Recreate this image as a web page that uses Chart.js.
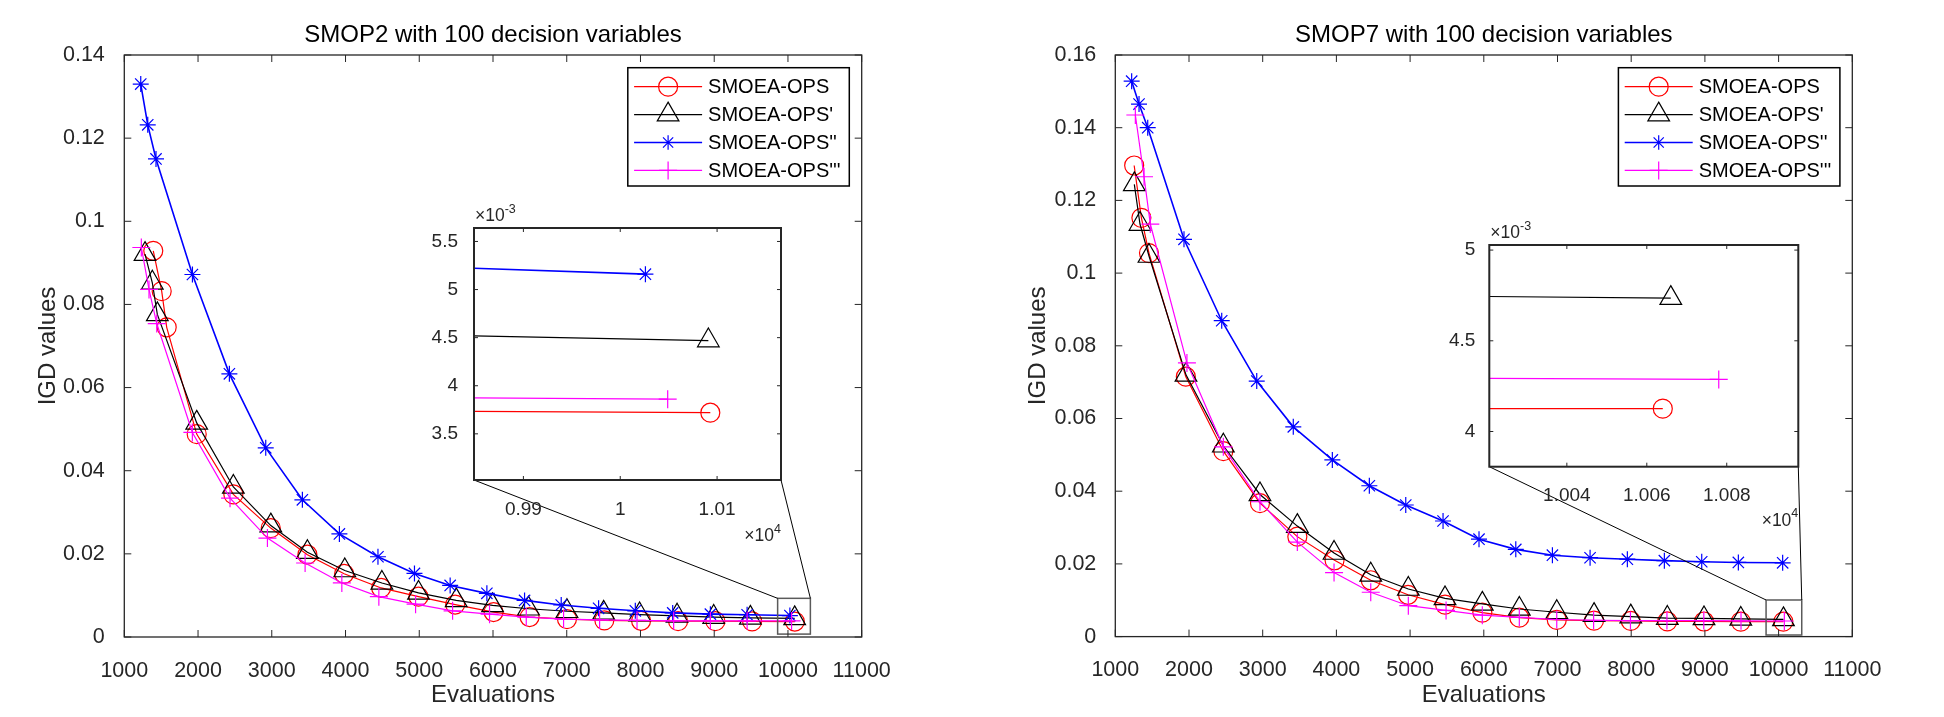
<!DOCTYPE html>
<html>
<head>
<meta charset="utf-8">
<title>IGD values vs evaluations</title>
<script src="https://cdn.jsdelivr.net/npm/chart.js@4.4.1/dist/chart.umd.min.js"></script>
<style>
  html, body { margin: 0; padding: 0; background: #fff; }
  body { width: 1944px; height: 717px; position: relative; overflow: hidden; }
  canvas { position: absolute; }
</style>
</head>
<body>
<canvas id="mainLeft" width="972" height="717" style="left:0px;top:0px"></canvas>
<canvas id="mainRight" width="972" height="717" style="left:972px;top:0px"></canvas>
<canvas id="insetLeft" width="420" height="370" style="left:394px;top:190px"></canvas>
<canvas id="insetRight" width="420" height="340" style="left:1409px;top:205px"></canvas>
<script>
// ---- series names ----
const seriesLabels = ['SMOEA-OPS', "SMOEA-OPS'", "SMOEA-OPS''", "SMOEA-OPS'''"];

// ---- SMOP2 (left panel) ----
const smop2RedX = [1393, 1507, 1575, 1982, 2479, 2986, 3483, 3981, 4483, 4989, 5487, 6008, 6496, 7003, 7510, 8008, 8510, 9016, 9514, 10093];
const smop2RedY = [0.0929, 0.0832, 0.0745, 0.0488, 0.0343, 0.0262, 0.0198, 0.0152, 0.0118, 0.0097, 0.0078, 0.0060, 0.0048, 0.0043, 0.0040, 0.0039, 0.0038, 0.0038, 0.00375, 0.00372];
const smop2BlackX = [1281, 1380, 1448, 1982, 2479, 2987, 3483, 3990, 4493, 4990, 5501, 5994, 6482, 7003, 7500, 7988, 8496, 8993, 9490, 10091];
const smop2BlackY = [0.0921, 0.0852, 0.0776, 0.0515, 0.0361, 0.0268, 0.0204, 0.0160, 0.0130, 0.0106, 0.0088, 0.0076, 0.0068, 0.0062, 0.0058, 0.0054, 0.0051, 0.0048, 0.00459, 0.00447];
const smop2BlueX = [1223, 1318, 1430, 1924, 2425, 2918, 3415, 3917, 4440, 4935, 5419, 5917, 6428, 6925, 7432, 7930, 8437, 8948, 9446, 10026];
const smop2BlueY = [0.1330, 0.1232, 0.1150, 0.0872, 0.0633, 0.0455, 0.0330, 0.0248, 0.0193, 0.0153, 0.0124, 0.0105, 0.0088, 0.0077, 0.0069, 0.0063, 0.0058, 0.0055, 0.00536, 0.00516];
const smop2MagentaX = [1231, 1335, 1440, 1923, 2434, 2941, 3452, 3950, 4452, 4950, 5452, 5953, 6451, 6957, 7446, 7953, 8450, 8948, 9446, 10049];
const smop2MagentaY = [0.0937, 0.0836, 0.0754, 0.0492, 0.0334, 0.0238, 0.0178, 0.0130, 0.0097, 0.0079, 0.0063, 0.0055, 0.0048, 0.0043, 0.0041, 0.0040, 0.0039, 0.0039, 0.0039, 0.00386];

// ---- SMOP7 (right panel) ----
const smop7RedX = [1256, 1354, 1457, 1957, 2466, 2963, 3470, 3975, 4466, 4972, 5474, 5980, 6482, 6990, 7496, 7994, 8490, 8988, 9487, 10064];
const smop7RedY = [0.1296, 0.1152, 0.1055, 0.0715, 0.0510, 0.0367, 0.0275, 0.0210, 0.0155, 0.0115, 0.0088, 0.0066, 0.0052, 0.0046, 0.0044, 0.0043, 0.0042, 0.00415, 0.00413, 0.004126];
const smop7BlackX = [1258, 1335, 1457, 1959, 2466, 2963, 3470, 3968, 4466, 4976, 5474, 5980, 6482, 6990, 7496, 7994, 8490, 8988, 9487, 10066];
const smop7BlackY = [0.1244, 0.1135, 0.1047, 0.0720, 0.0525, 0.0391, 0.0304, 0.0230, 0.0170, 0.0131, 0.0105, 0.0090, 0.0076, 0.0067, 0.0059, 0.0055, 0.0051, 0.0050, 0.00485, 0.004735];
const smop7BlueX = [1222, 1322, 1440, 1932, 2444, 2919, 3415, 3945, 4447, 4941, 5447, 5935, 6434, 6931, 7442, 7948, 8450, 8957, 9454, 10055];
const smop7BlueY = [0.1528, 0.1465, 0.1400, 0.1093, 0.0869, 0.0703, 0.0577, 0.0486, 0.0415, 0.0362, 0.0318, 0.0268, 0.0240, 0.0224, 0.0217, 0.0213, 0.0209, 0.0206, 0.0204, 0.0203];
const smop7MagentaX = [1272, 1390, 1475, 1972, 2466, 2963, 3470, 3968, 4466, 4976, 5488, 5980, 6482, 6990, 7490, 7990, 8485, 8985, 9490, 10078];
const smop7MagentaY = [0.1435, 0.1265, 0.1135, 0.0753, 0.0522, 0.0371, 0.0260, 0.0176, 0.0122, 0.0085, 0.0072, 0.0059, 0.0053, 0.0047, 0.0045, 0.0044, 0.0044, 0.0044, 0.00435, 0.004287];

// ---- ticks ----
const mainXTicks = [1000, 2000, 3000, 4000, 5000, 6000, 7000, 8000, 9000, 10000, 11000];
const mainXLabels = ['1000', '2000', '3000', '4000', '5000', '6000', '7000', '8000', '9000', '10000', '11000'];
const smop2YTicks = [0, 0.02, 0.04, 0.06, 0.08, 0.1, 0.12, 0.14];
const smop2YLabels = ['0', '0.02', '0.04', '0.06', '0.08', '0.1', '0.12', '0.14'];
const smop7YTicks = [0, 0.02, 0.04, 0.06, 0.08, 0.1, 0.12, 0.14, 0.16];
const smop7YLabels = ['0', '0.02', '0.04', '0.06', '0.08', '0.1', '0.12', '0.14', '0.16'];
const inset2XTicks = [9900, 10000, 10100];
const inset2XLabels = ['0.99', '1', '1.01'];
const inset2YTicks = [0.0035, 0.004, 0.0045, 0.005, 0.0055];
const inset2YLabels = ['3.5', '4', '4.5', '5', '5.5'];
const inset7XTicks = [10040, 10060, 10080];
const inset7XLabels = ['1.004', '1.006', '1.008'];
const inset7YTicks = [0.004, 0.0045, 0.005];
const inset7YLabels = ['4', '4.5', '5'];

// ---- axis ranges and zoom boxes ----
const inset2XRange = [9849, 10166];
const inset2YRange = [0.00302, 0.00564];
const inset7XRange = [10020.6, 10097.9];
const inset7YRange = [0.003806, 0.005028];
const zoomBox2X = [9860, 10304];
const zoomBox2Y = [0.0007, 0.0093];
const zoomBox7X = [9830, 10314];
const zoomBox7Y = [0.00044, 0.01007];

const FONT = "'Liberation Sans', Arial, Helvetica, sans-serif";
const AXIS_COLOR = '#262626';
Chart.defaults.font.family = FONT;
Chart.defaults.color = AXIS_COLOR;

const seriesStyles = [
  { color: '#ff0000', pointStyle: 'circle',   radius: 9.5, line: 1.2, order: 4 },
  { color: '#000000', pointStyle: 'triangle', radius: 12.5, line: 1.2, order: 3 },
  { color: '#0000ff', pointStyle: 'star',     radius: 8,   line: 1.6, order: 2 },
  { color: '#ff00ff', pointStyle: 'cross',    radius: 9,   line: 1.2, order: 1 }
];

function buildDatasets(xs, ys) {
  return xs.map((xArr, i) => {
    const s = seriesStyles[i];
    return {
      label: seriesLabels[i],
      data: xArr.map((x, j) => ({ x: x, y: ys[i][j] })),
      borderColor: s.color,
      borderWidth: s.line,
      pointStyle: s.pointStyle,
      pointRadius: s.radius,
      pointBorderWidth: 1.2,
      pointBorderColor: s.color,
      pointBackgroundColor: 'rgba(0,0,0,0)',
      tension: 0,
      fill: false,
      order: s.order
    };
  });
}

function axis(opts) {
  return {
    type: 'linear',
    position: opts.position,
    min: opts.min,
    max: opts.max,
    grid: { display: false },
    border: { display: false },
    afterBuildTicks: (scale) => { scale.ticks = opts.ticks.map(v => ({ value: v })); },
    afterFit: (scale) => {
      if (opts.position === 'bottom') scale.height = opts.size;
      else scale.width = opts.size;
    },
    ticks: {
      autoSkip: false,
      maxRotation: 0,
      minRotation: 0,
      padding: opts.pad,
      color: AXIS_COLOR,
      font: { size: opts.font },
      callback: (v, i) => opts.labels[i]
    },
    title: opts.title ? {
      display: true,
      text: opts.title,
      color: AXIS_COLOR,
      font: { size: 24 },
      padding: opts.titlePad
    } : { display: false }
  };
}

// per-canvas decoration (box, legend, zoom box, exponents, title)
const decor = {
  mainLeft: {
    title: 'SMOP2 with 100 decision variables', titleY: 35,
    tickLen: 7, boxWidth: 1.3,
    legend: true,
    zoom: { x: zoomBox2X, y: zoomBox2Y, inset: 'insetLeft' }
  },
  mainRight: {
    title: 'SMOP7 with 100 decision variables', titleY: 35,
    tickLen: 7, boxWidth: 1.3,
    legend: true,
    zoom: { x: zoomBox7X, y: zoomBox7Y, inset: 'insetRight' }
  },
  insetLeft: { tickLen: 4, boxWidth: 2, white: true, expX: '4', expY: '-3', xGap: 56.5, yGap: 11.5 },
  insetRight: { tickLen: 4, boxWidth: 2, white: true, expX: '4', expY: '-3', xGap: 54, yGap: 11.5 }
};
const charts = {};

function drawPower(ctx, x, y, exp, alignRight) {
  ctx.font = '17.5px ' + FONT;
  const wb = ctx.measureText('\u00d710').width;
  ctx.font = '12.5px ' + FONT;
  const ws = ctx.measureText(exp).width;
  const start = alignRight ? x - wb - ws : x;
  ctx.textAlign = 'left';
  ctx.textBaseline = 'middle';
  ctx.font = '17.5px ' + FONT;
  ctx.fillText('\u00d710', start, y);
  ctx.font = '12.5px ' + FONT;
  ctx.fillText(exp, start + wb, y - 7);
}

const matlabAxes = {
  id: 'matlabAxes',
  beforeDatasetsDraw(chart) {
    const d = decor[chart.canvas.id];
    if (!d || !d.white) return;
    const a = chart.chartArea, ctx = chart.ctx;
    ctx.save();
    ctx.fillStyle = '#ffffff';
    ctx.fillRect(a.left, a.top, a.right - a.left, a.bottom - a.top);
    ctx.restore();
  },
  afterDatasetsDraw(chart) {
    const d = decor[chart.canvas.id];
    if (!d) return;
    const ctx = chart.ctx, a = chart.chartArea;
    const xs = chart.scales.x, ys = chart.scales.y;
    ctx.save();

    // zoom rectangle and connector lines to the inset
    if (d.zoom) {
      const z = d.zoom;
      const x0 = xs.getPixelForValue(z.x[0]), x1 = xs.getPixelForValue(z.x[1]);
      const y0 = ys.getPixelForValue(z.y[1]), y1 = ys.getPixelForValue(z.y[0]);
      ctx.strokeStyle = '#5a5a5a';
      ctx.lineWidth = 1.5;
      ctx.strokeRect(x0, y0, x1 - x0, y1 - y0);
      const inset = charts[z.inset];
      if (inset) {
        const ia = inset.chartArea;
        const dx = inset.canvas.offsetLeft - chart.canvas.offsetLeft;
        const dy = inset.canvas.offsetTop - chart.canvas.offsetTop;
        ctx.strokeStyle = '#000';
        ctx.lineWidth = 1;
        ctx.beginPath();
        ctx.moveTo(ia.left + dx, ia.bottom + dy); ctx.lineTo(x0, y0);
        ctx.moveTo(ia.right + dx, ia.bottom + dy); ctx.lineTo(x1, y0);
        ctx.stroke();
      }
    }

    // box with inward ticks on all sides
    ctx.strokeStyle = AXIS_COLOR;
    ctx.lineWidth = d.boxWidth;
    ctx.strokeRect(a.left, a.top, a.right - a.left, a.bottom - a.top);
    ctx.lineWidth = 1;
    ctx.beginPath();
    xs.ticks.forEach(t => {
      const p = xs.getPixelForValue(t.value);
      ctx.moveTo(p, a.bottom); ctx.lineTo(p, a.bottom - d.tickLen);
      ctx.moveTo(p, a.top); ctx.lineTo(p, a.top + d.tickLen);
    });
    ys.ticks.forEach(t => {
      const p = ys.getPixelForValue(t.value);
      ctx.moveTo(a.left, p); ctx.lineTo(a.left + d.tickLen, p);
      ctx.moveTo(a.right, p); ctx.lineTo(a.right - d.tickLen, p);
    });
    ctx.stroke();

    // legend in the upper right corner
    if (d.legend) {
      const w = 221.5, h = 118.3;
      const bx = a.right - 12.4 - w, by = a.top + 12.7;
      ctx.fillStyle = '#fff';
      ctx.fillRect(bx, by, w, h);
      ctx.strokeStyle = '#000';
      ctx.lineWidth = 1.5;
      ctx.strokeRect(bx, by, w, h);
      chart.data.datasets.forEach((ds, i) => {
        const y = by + 19 + i * 27.9;
        ctx.strokeStyle = ds.borderColor;
        ctx.lineWidth = ds.borderWidth;
        ctx.beginPath();
        ctx.moveTo(bx + 6.3, y); ctx.lineTo(bx + 74.3, y);
        ctx.stroke();
        ctx.fillStyle = 'rgba(0,0,0,0)';
        ctx.lineWidth = ds.pointBorderWidth;
        const mr = ds.pointStyle === 'star' ? 7.2 : ds.pointRadius;
        if (Chart.helpers && Chart.helpers.drawPoint) {
          Chart.helpers.drawPoint(ctx, { pointStyle: ds.pointStyle, radius: mr, borderWidth: ds.pointBorderWidth, rotation: 0 }, bx + 40.3, y);
        } else {
          ctx.beginPath(); ctx.arc(bx + 40.3, y, mr, 0, Math.PI * 2); ctx.stroke();
        }
        ctx.fillStyle = '#000';
        ctx.font = '20px ' + FONT;
        ctx.textAlign = 'left';
        ctx.textBaseline = 'middle';
        ctx.fillText(ds.label, bx + 80.3, y + 1);
      });
    }

    // axis exponent multipliers
    if (d.expX) {
      ctx.fillStyle = AXIS_COLOR;
      drawPower(ctx, a.right, a.bottom + d.xGap, d.expX, true);
      drawPower(ctx, a.left + 1, a.top - d.yGap, d.expY, false);
    }

    // title centered over the axes
    if (d.title) {
      ctx.fillStyle = '#000';
      ctx.font = '24px ' + FONT;
      ctx.textAlign = 'center';
      ctx.textBaseline = 'middle';
      ctx.fillText(d.title, (a.left + a.right) / 2, d.titleY);
    }
    ctx.restore();
  }
};
Chart.register(matlabAxes);

function makeChart(id, datasets, xAxis, yAxis, padding) {
  charts[id] = new Chart(document.getElementById(id), {
    type: 'line',
    data: { datasets: datasets },
    options: {
      responsive: false,
      animation: false,
      devicePixelRatio: 1,
      events: [],
      layout: { padding: padding },
      plugins: { legend: { display: false }, tooltip: { enabled: false }, title: { display: false } },
      scales: { x: xAxis, y: yAxis }
    }
  });
}

const smop2Sets = () => buildDatasets([smop2RedX, smop2BlackX, smop2BlueX, smop2MagentaX], [smop2RedY, smop2BlackY, smop2BlueY, smop2MagentaY]);
const smop7Sets = () => buildDatasets([smop7RedX, smop7BlackX, smop7BlueX, smop7MagentaX], [smop7RedY, smop7BlackY, smop7BlueY, smop7MagentaY]);

// insets first, so the main panels can link to them
makeChart('insetLeft', smop2Sets(),
  axis({ position: 'bottom', min: inset2XRange[0], max: inset2XRange[1], ticks: inset2XTicks, labels: inset2XLabels, size: 80, pad: 10.5, font: 19 }),
  axis({ position: 'left', min: inset2YRange[0], max: inset2YRange[1], ticks: inset2YTicks, labels: inset2YLabels, size: 80, pad: 8, font: 19 }),
  { top: 38, right: 33, left: 0, bottom: 0 });

makeChart('insetRight', smop7Sets(),
  axis({ position: 'bottom', min: inset7XRange[0], max: inset7XRange[1], ticks: inset7XTicks, labels: inset7XLabels, size: 78.3, pad: 9.5, font: 19 }),
  axis({ position: 'left', min: inset7YRange[0], max: inset7YRange[1], ticks: inset7YTicks, labels: inset7YLabels, size: 80.3, pad: 6, font: 19 }),
  { top: 40, right: 30.7, left: 0, bottom: 0 });

makeChart('mainLeft', smop2Sets(),
  axis({ position: 'bottom', min: 1000, max: 11000, ticks: mainXTicks, labels: mainXLabels, size: 80, pad: 13, font: 21.5, title: 'Evaluations', titlePad: { top: 0, bottom: 7 } }),
  axis({ position: 'left', min: 0, max: 0.14, ticks: smop2YTicks, labels: smop2YLabels, size: 124.3, pad: 11.5, font: 21.5, title: 'IGD values', titlePad: { top: 34, bottom: 0 } }),
  { top: 55, right: 110.3, left: 0, bottom: 0 });

makeChart('mainRight', smop7Sets(),
  axis({ position: 'bottom', min: 1000, max: 11000, ticks: mainXTicks, labels: mainXLabels, size: 80.4, pad: 13, font: 21.5, title: 'Evaluations', titlePad: { top: 0, bottom: 7 } }),
  axis({ position: 'left', min: 0, max: 0.16, ticks: smop7YTicks, labels: smop7YLabels, size: 143.3, pad: 11, font: 21.5, title: 'IGD values', titlePad: { top: 52, bottom: 0 } }),
  { top: 55, right: 91.7, left: 0, bottom: 0 });
</script>
</body>
</html>
